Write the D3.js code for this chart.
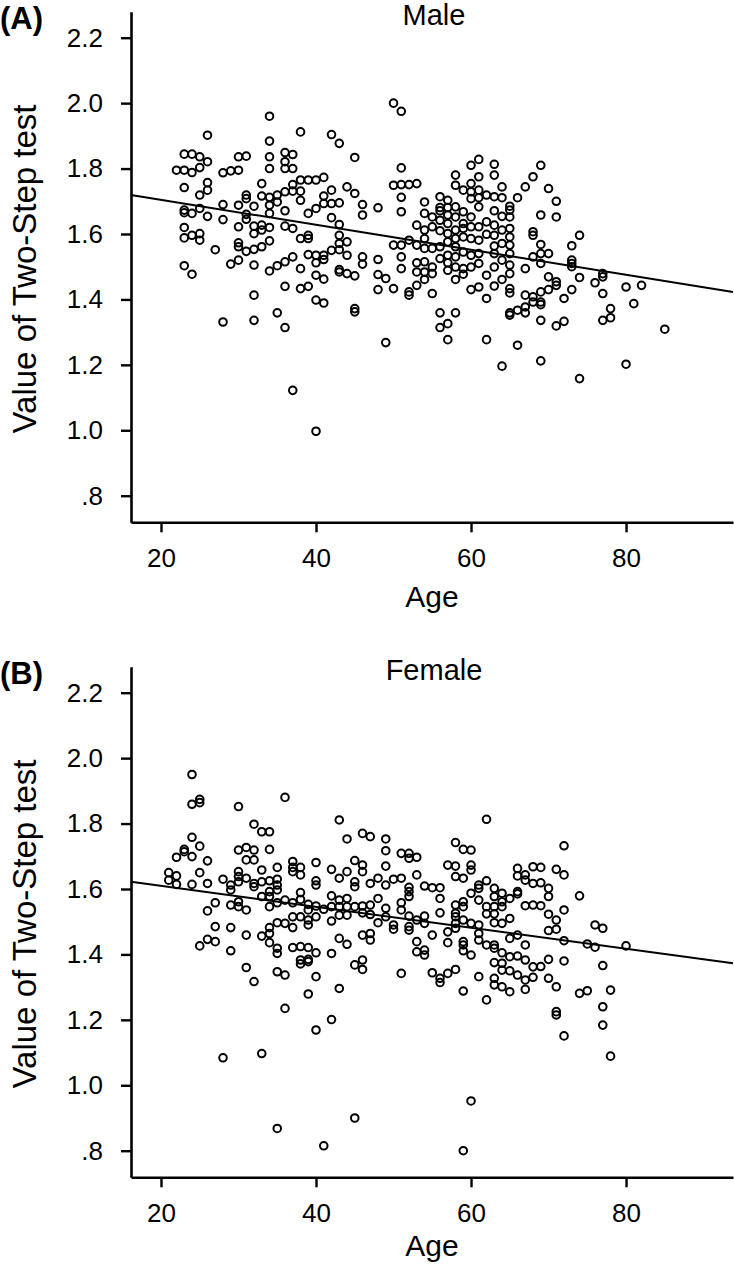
<!DOCTYPE html>
<html><head><meta charset="utf-8">
<script src="https://cdn.jsdelivr.net/npm/d3@7"></script>
<style>body{margin:0;background:#fff}svg{display:block}text{font-family:"Liberation Sans",Arial,Helvetica,sans-serif;fill:#000}</style>
</head><body><svg id="c" width="734" height="1265"></svg>
<script>
const xTicks = [20, 40, 60, 80];
const yTicks = [0.8, 1.0, 1.2, 1.4, 1.6, 1.8, 2.0, 2.2];
const yTickLabels = [".8", "1.0", "1.2", "1.4", "1.6", "1.8", "2.0", "2.2"];
const panelLabels = ["(A)", "(B)"];
const panelTitles = ["Male", "Female"];
const xTitle = "Age";
const yTitle = "Value of Two-Step test";

// [age, [values...]]
const maleByAge = [
 [22,[1.795]],
 [23,[1.844,1.795,1.742,1.673,1.665,1.620,1.588,1.503]],
 [24,[1.844,1.788,1.663,1.596,1.477]],
 [25,[1.836,1.803,1.719,1.678,1.601,1.581]],
 [26,[1.902,1.821,1.757,1.734,1.654]],
 [27,[1.552]],
 [28,[1.787,1.690,1.644,1.331]],
 [29,[1.793,1.508]],
 [30,[1.836,1.795,1.688,1.622,1.573,1.561,1.520]],
 [31,[1.838,1.719,1.708,1.660,1.645,1.547]],
 [32,[1.685,1.624,1.601,1.553,1.505,1.413,1.336]],
 [33,[1.754,1.716,1.627,1.612,1.561]],
 [34,[1.960,1.884,1.836,1.800,1.712,1.688,1.663,1.620,1.579,1.487]],
 [35,[1.719,1.698,1.503,1.359]],
 [36,[1.849,1.821,1.800,1.729,1.671,1.624,1.515,1.440,1.314]],
 [37,[1.843,1.800,1.751,1.731,1.617,1.530,1.122]],
 [38,[1.912,1.765,1.731,1.703,1.586,1.494,1.433]],
 [39,[1.765,1.663,1.596,1.586,1.537,1.440]],
 [40,[1.765,1.678,1.535,1.512,1.474,1.398,0.997]],
 [41,[1.773,1.716,1.693,1.535,1.522,1.462,1.389]],
 [42,[1.904,1.734,1.693,1.650,1.550]],
 [43,[1.877,1.695,1.629,1.596,1.571,1.552,1.491,1.484]],
 [44,[1.744,1.576,1.535,1.479]],
 [45,[1.834,1.724,1.472,1.372,1.362]],
 [46,[1.690,1.658,1.530,1.508]],
 [48,[1.680,1.522,1.476,1.430]],
 [49,[1.464,1.268]],
 [50,[2.000,1.749,1.566,1.433]],
 [51,[1.975,1.802,1.751,1.712,1.668,1.566,1.530,1.494]],
 [52,[1.751,1.581,1.423,1.413]],
 [53,[1.754,1.627,1.566,1.512,1.484,1.443]],
 [54,[1.698,1.663,1.612,1.586,1.556,1.515,1.484,1.461]],
 [55,[1.652,1.622,1.556,1.499,1.479,1.418]],
 [56,[1.714,1.681,1.671,1.642,1.610,1.561,1.525,1.359,1.314]],
 [57,[1.703,1.681,1.658,1.632,1.601,1.576,1.535,1.512,1.489,1.326,1.277]],
 [58,[1.780,1.749,1.683,1.652,1.612,1.586,1.561,1.530,1.499,1.461,1.359]],
 [59,[1.734,1.668,1.632,1.617,1.591,1.545,1.494,1.477]],
 [60,[1.810,1.754,1.729,1.708,1.652,1.622,1.586,1.535,1.499,1.430]],
 [61,[1.828,1.775,1.734,1.711,1.683,1.622,1.581,1.540,1.510,1.438]],
 [62,[1.719,1.637,1.599,1.474,1.403,1.277]],
 [63,[1.813,1.780,1.714,1.671,1.627,1.596,1.563,1.540,1.499,1.441]],
 [64,[1.744,1.711,1.654,1.612,1.571,1.520,1.461,1.196]],
 [65,[1.685,1.673,1.652,1.617,1.591,1.566,1.540,1.505,1.479,1.433,1.420,1.359,1.352]],
 [66,[1.711,1.367,1.260]],
 [67,[1.744,1.494,1.413,1.377,1.359]],
 [68,[1.775,1.607,1.596,1.530,1.408,1.392]],
 [69,[1.810,1.658,1.568,1.540,1.510,1.423,1.392,1.384,1.336,1.212]],
 [70,[1.739,1.540,1.469,1.430]],
 [71,[1.700,1.652,1.454,1.443,1.319]],
 [72,[1.403,1.333]],
 [73,[1.564,1.520,1.510,1.500,1.430]],
 [74,[1.596,1.467,1.158]],
 [76,[1.451]],
 [77,[1.479,1.469,1.418,1.336]],
 [78,[1.372,1.344]],
 [80,[1.438,1.202]],
 [81,[1.387]],
 [82,[1.443]],
 [85,[1.309]]
];

const femaleByAge = [
 [21,[1.650,1.627]],
 [22,[1.697,1.640,1.614]],
 [23,[1.721,1.714]],
 [24,[1.950,1.859,1.758,1.699,1.614]],
 [25,[1.874,1.864,1.731,1.650,1.426]],
 [26,[1.686,1.617,1.533,1.446]],
 [27,[1.558,1.485,1.439]],
 [28,[1.630,1.084]],
 [29,[1.612,1.597,1.551,1.482,1.411]],
 [30,[1.852,1.719,1.653,1.638,1.622,1.561,1.546]],
 [31,[1.727,1.689,1.633,1.536,1.459,1.360]],
 [32,[1.798,1.719,1.689,1.617,1.607,1.317]],
 [33,[1.775,1.658,1.622,1.577,1.456,1.097]],
 [34,[1.775,1.721,1.625,1.592,1.577,1.546,1.482,1.464,1.436]],
 [35,[1.666,1.630,1.612,1.597,1.558,1.497,1.419,1.403,1.347,0.868]],
 [36,[1.880,1.566,1.495,1.337,1.235]],
 [37,[1.684,1.666,1.653,1.558,1.515,1.482,1.421]],
 [38,[1.666,1.643,1.589,1.568,1.515,1.424,1.383,1.371]],
 [39,[1.553,1.536,1.505,1.490,1.421,1.385,1.378,1.279]],
 [40,[1.681,1.625,1.612,1.548,1.515,1.405,1.332,1.169]],
 [41,[1.538,0.815]],
 [42,[1.660,1.579,1.546,1.502,1.403,1.201]],
 [43,[1.811,1.633,1.566,1.546,1.520,1.449,1.296]],
 [44,[1.753,1.653,1.571,1.546,1.520,1.431]],
 [45,[1.687,1.622,1.607,1.546,1.368,0.900]],
 [46,[1.770,1.673,1.653,1.548,1.527,1.459,1.383,1.354]],
 [47,[1.760,1.617,1.551,1.522,1.464,1.444]],
 [48,[1.633,1.571,1.497]],
 [49,[1.753,1.717,1.670,1.612,1.541,1.515]],
 [50,[1.630,1.490,1.477]],
 [51,[1.709,1.633,1.558,1.536,1.342]],
 [52,[1.709,1.694,1.605,1.592,1.577,1.517,1.485,1.474]],
 [53,[1.697,1.643,1.505,1.439,1.408]],
 [54,[1.609,1.517,1.495,1.413,1.398]],
 [55,[1.604,1.459,1.344]],
 [56,[1.604,1.571,1.527,1.327,1.314]],
 [57,[1.673,1.469,1.436,1.342]],
 [58,[1.742,1.670,1.638,1.551,1.526,1.515,1.495,1.480,1.354]],
 [59,[1.721,1.633,1.561,1.546,1.505,1.439,1.429,1.411,1.288,0.800]],
 [60,[1.719,1.673,1.658,1.587,1.495,1.398,0.952]],
 [61,[1.612,1.602,1.566,1.490,1.464,1.444,1.332]],
 [62,[1.813,1.625,1.546,1.524,1.429,1.261]],
 [63,[1.602,1.577,1.546,1.524,1.497,1.429,1.419,1.375,1.327,1.307]],
 [64,[1.587,1.561,1.546,1.495,1.405,1.373,1.352,1.301]],
 [65,[1.571,1.510,1.449,1.393,1.350,1.286]],
 [66,[1.663,1.640,1.592,1.585,1.459,1.395,1.337]],
 [67,[1.643,1.627,1.549,1.429,1.383,1.322,1.293]],
 [68,[1.668,1.617,1.551,1.362,1.330]],
 [69,[1.666,1.619,1.549,1.363]],
 [70,[1.602,1.577,1.523,1.473,1.385,1.327]],
 [71,[1.660,1.505,1.477,1.301,1.225,1.215]],
 [72,[1.732,1.643,1.536,1.442,1.380,1.151]],
 [74,[1.579,1.281]],
 [75,[1.432,1.289]],
 [76,[1.490,1.422]],
 [77,[1.480,1.366,1.240,1.184]],
 [78,[1.291,1.089]],
 [80,[1.426]]
];

// linear fits: [intercept, slope]
const maleFit = [1.7806, -0.003816];
const femaleFit = [1.6737, -0.003206];

const panels = [
  {label: panelLabels[0], title: panelTitles[0], data: maleByAge, fit: maleFit, dy: 0, xTitleY: 607},
  {label: panelLabels[1], title: panelTitles[1], data: femaleByAge, fit: femaleFit, dy: 655, xTitleY: 601}
];

const svg = d3.select("#c");
const L = 131, R = 733, T = 11.7, B = 522.3;
const x = d3.scaleLinear().domain([16.13, 93.8]).range([L, R]);
const y = d3.scaleLinear().domain([0.7187, 2.2795]).range([B, T]);

panels.forEach(p => {
  const g = svg.append("g").attr("transform", `translate(0,${p.dy})`);

  const ya = g.append("g").attr("transform", `translate(${L},0)`)
    .call(d3.axisLeft(y).tickValues(yTicks)
      .tickFormat((d, i) => yTickLabels[i]).tickSize(10).tickSizeOuter(0).tickPadding(18));
  const xa = g.append("g").attr("transform", `translate(0,${B})`)
    .call(d3.axisBottom(x).tickValues(xTicks).tickFormat(d3.format("d"))
      .tickSize(10).tickSizeOuter(0).tickPadding(16));
  [ya, xa].forEach(a => {
    a.select(".domain").attr("stroke", "#000").attr("stroke-width", 2.6);
    a.selectAll(".tick line").attr("stroke", "#000").attr("stroke-width", 2.4);
    a.selectAll(".tick text").attr("font-size", 26).attr("font-family", "'Liberation Sans',Arial,sans-serif").attr("fill", "#000");
  });

  const pts = [];
  p.data.forEach(([age, vals]) => vals.forEach(v => pts.push([age, v])));
  g.append("g").selectAll("circle").data(pts).join("circle")
    .attr("cx", d => x(d[0])).attr("cy", d => y(d[1])).attr("r", 3.8)
    .attr("fill", "none").attr("stroke", "#000").attr("stroke-width", 2);

  const [a0, a1] = x.domain();
  g.append("line")
    .attr("x1", x(a0)).attr("y1", y(p.fit[0] + p.fit[1] * a0))
    .attr("x2", x(a1)).attr("y2", y(p.fit[0] + p.fit[1] * a1))
    .attr("stroke", "#000").attr("stroke-width", 2);

  g.append("text").attr("x", 0).attr("y", 29).attr("font-size", 31).attr("font-weight", "bold").text(p.label);
  g.append("text").attr("x", 434).attr("y", 25).attr("font-size", 29).attr("text-anchor", "middle").text(p.title);
  g.append("text").attr("x", (L + R) / 2).attr("y", p.xTitleY).attr("font-size", 30).attr("text-anchor", "middle").text(xTitle);
  g.append("text").attr("transform", `translate(36,${(T + B) / 2 + 2}) rotate(-90)`)
    .attr("font-size", 33).attr("text-anchor", "middle").text(yTitle);
});
</script></body></html>
